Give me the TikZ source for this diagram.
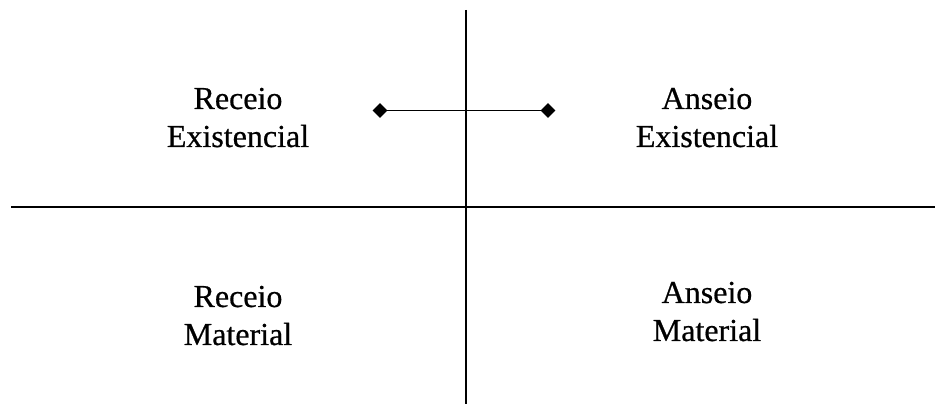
\documentclass[tikz,border=0pt]{standalone}
\usepackage{fontspec}
\setmainfont{Liberation Serif}
\newfontfamily\lblfont[FakeBold=0.6]{Liberation Serif}
\usetikzlibrary{shapes.geometric}
\begin{document}
\begin{tikzpicture}[x=1pt,y=1pt,
  lbl/.style={font=\lblfont\fontsize{32}{38}\selectfont, align=center, anchor=base, inner sep=0pt},
  axis/.style={line width=2.6pt},
  dmd/.style={diamond, fill=black, inner sep=0pt, minimum width=15pt, minimum height=15pt},
  link/.style={line width=1.4pt}]
\useasboundingbox (0,0) rectangle (935,404);
\coordinate (vtop) at (466,394);
\coordinate (vbot) at (466,0);
\coordinate (hl) at (11,197);
\coordinate (hr) at (935,197);
\draw[axis] (vtop) -- (vbot);
\draw[axis] (hl) -- (hr);
\node[dmd] (ld) at (380,293.5) {};
\node[dmd] (rd) at (548,293.5) {};
\draw[link] (ld.center) -- (rd.center);
\node[lbl] (re) at (238,257) {Receio\\Existencial};
\node[lbl] (ae) at (707,257) {Anseio\\Existencial};
\node[lbl] (rm) at (238,59) {Receio\\Material};
\node[lbl] (am) at (707,63) {Anseio\\Material};
\end{tikzpicture}
\end{document}
